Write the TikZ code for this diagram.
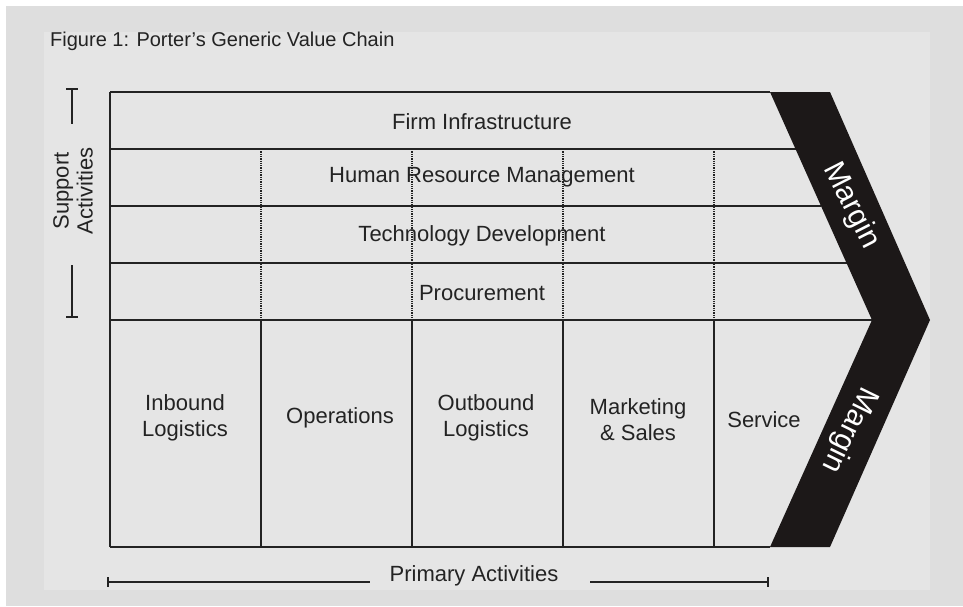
\documentclass[tikz,border=0pt]{standalone}
\usepackage{fontspec}
\setmainfont{Liberation Sans}
\usetikzlibrary{positioning}
\usetikzlibrary{calc}
\definecolor{ink}{RGB}{35,35,35}
\definecolor{paper}{RGB}{222,222,222}
\definecolor{panel}{RGB}{229,229,229}
\definecolor{margin-fill}{RGB}{28,24,24}

\begin{document}
\begin{tikzpicture}[x=1pt, y=-1pt, node distance=2pt,
  grid/.style={ink, line width=1.4pt},
  gridv/.style={ink, line width=1.3pt, densely dotted},
  lab/.style={font=\fontsize{22}{26}\selectfont, text=ink, align=center, inner sep=0pt},
  marg/.style={font=\fontsize{30}{30}\selectfont, text=white, inner sep=0pt},
  brace/.style={ink, line width=1.2pt}]

% background and panel
\fill [white] (0,0) rectangle (963,606);
\fill [paper] (6,6) rectangle (963,606);
\fill [panel] (44,32) rectangle (930,590);
\useasboundingbox (0,0) rectangle (963,606);

\node [anchor=base west, font=\fontsize{20}{22}\selectfont, text=ink, inner sep=0pt] (title) at (50,46) {Figure 1: Porter’s Generic Value Chain};

% rows of the chain, each stops at the margin arrow
\coordinate (nw) at (110,92);
\coordinate (sw) at (110,547);
\draw [grid] (nw) -- (770,92);
\foreach \y in {149,206,263,320}
  \draw [grid] (110,\y) -- ({770+(\y-92)/228*102},\y);
\draw [grid] (sw) -- (770,547);
\draw [grid] (nw) -- (sw);

% columns: dotted for support, solid for primary
\foreach \x in {261,412,563,714} {
  \draw [gridv] (\x,149) -- (\x,320);
  \draw [grid] (\x,320) -- (\x,547);
}

% the margin arrow
\fill [margin-fill] (770,92) -- (830,92) -- (930,320) -- (830,547) -- (770,547) -- (872,320) -- cycle;
\node [marg, rotate=-63] (margin1) at (851,206) {Margin};
\node [marg, rotate=-116] (margin2) at (849,430) {Margin};

% support activities
\node [lab] (firm) at (482,122) {Firm Infrastructure};
\node [lab] (hrm) at (482,177) {Human Resource Management};
\node [lab] (tech) at (482,236) {Technology Development};
\node [lab] (proc) at (482,293) {Procurement};

% primary activities
\node [lab] (inbound) at (185,418) {Inbound\\Logistics};
\node [lab] (ops) at (340,418) {Operations};
\node [lab] (outbound) at (486,418) {Outbound\\Logistics};
\node [lab] (mkt) at (638,420) {Marketing\\\& Sales};
\node [lab] (service) at (764,420) {Service};

% side bracket
\node [lab, rotate=90, font=\fontsize{22}{24}\selectfont] (support) at (73,191) {Support\\Activities};
\coordinate (s1) at (72,89);
\coordinate (s2) at (72,124);
\coordinate (s3) at (72,265);
\coordinate (s4) at (72,317);
\draw [brace] (s1) -- (s2);
\draw [brace] ($(s1)+(-6,0)$) -- ($(s1)+(6,0)$);
\draw [brace] (s3) -- (s4);
\draw [brace] ($(s4)+(-6,0)$) -- ($(s4)+(6,0)$);

% bottom bracket
\node [lab] (primary) at (474,576) {Primary Activities};
\coordinate (p1) at (108,582);
\coordinate (p2) at (370,582);
\coordinate (p3) at (590,582);
\coordinate (p4) at (768,582);
\draw [brace] (p1) -- (p2);
\draw [brace] (p3) -- (p4);
\draw [brace] ($(p1)+(0,-5)$) -- ($(p1)+(0,5)$);
\draw [brace] ($(p4)+(0,-5)$) -- ($(p4)+(0,5)$);

\end{tikzpicture}
\end{document}
